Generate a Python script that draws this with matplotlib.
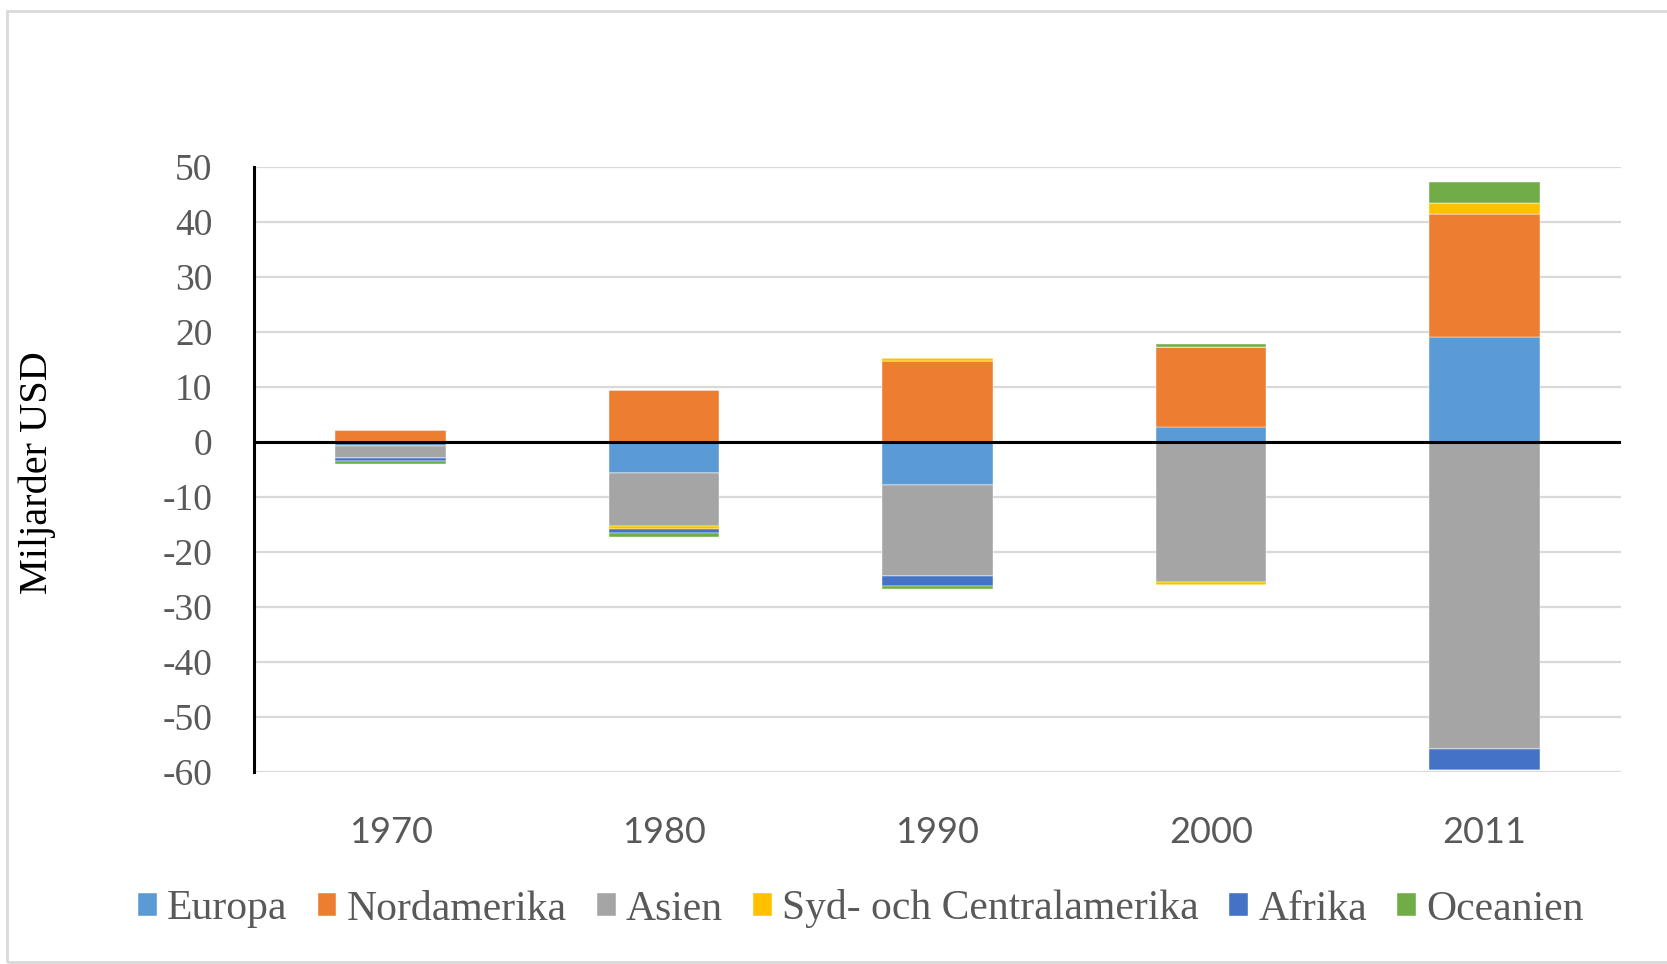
import matplotlib
matplotlib.use("Agg")
import matplotlib.pyplot as plt
from matplotlib.patches import Rectangle
import numpy as np

plt.rcParams["axes.unicode_minus"] = False

years = ["1970", "1980", "1990", "2000", "2011"]
series_names = ["Europa", "Nordamerika", "Asien", "Syd- och Centralamerika", "Afrika", "Oceanien"]
europa = [-0.8, -5.6, -7.9, 2.7, 19.1]
nordamerika = [2.2, 9.5, 14.7, 14.5, 22.4]
asien = [-2.1, -9.6, -16.4, -25.4, -55.8]
syd_central = [0.0, -0.7, 0.6, -0.6, 2.0]
afrika = [-0.5, -0.7, -1.8, 0.0, -3.9]
oceanien = [-0.6, -0.7, -0.7, 0.6, 3.7]
colors = ["#5B9BD5", "#ED7D31", "#A5A5A5", "#FFC000", "#4472C4", "#70AD47"]

data = [europa, nordamerika, asien, syd_central, afrika, oceanien]

fig = plt.figure(figsize=(16.67, 9.64), dpi=100)
# outer chart border
fig.patches.append(Rectangle((7 / 1667, 2 / 964), 1.0, 951 / 964, transform=fig.transFigure,
                             fill=False, edgecolor="#D9D9D9", linewidth=2.0))

ax = fig.add_axes([254 / 1667, 1 - 772 / 964, (1621 - 254) / 1667, (772 - 167) / 964])
x = np.arange(len(years))
pos_base = np.zeros(len(years))
neg_base = np.zeros(len(years))
width = 0.405
for name, vals, col in zip(series_names, data, colors):
    vals = np.array(vals, dtype=float)
    pos = np.where(vals > 0, vals, 0)
    neg = np.where(vals < 0, vals, 0)
    ax.bar(x, pos, width, bottom=pos_base, color=col, label=name, zorder=3,
           edgecolor="white", linewidth=0.3)
    ax.bar(x, neg, width, bottom=neg_base, color=col, zorder=3,
           edgecolor="white", linewidth=0.3)
    pos_base += pos
    neg_base += neg

ax.set_xlim(-0.5, 4.5)
ax.set_ylim(-60, 50)
ax.set_yticks(np.arange(-60, 51, 10))
ax.yaxis.grid(True, color="#D9D9D9", linewidth=1.6, zorder=0)
ax.set_axisbelow(True)
ax.axhline(0, color="black", linewidth=2.2, zorder=4)
for s in ["top", "right", "bottom"]:
    ax.spines[s].set_visible(False)
ax.spines["left"].set_color("black")
ax.spines["left"].set_linewidth(2.2)
ax.spines["left"].set_zorder(5)
ax.tick_params(axis="both", length=0)
ax.tick_params(axis="y", pad=30)
ax.tick_params(axis="x", pad=32)
ax.set_xticks(x)
ax.set_xticklabels(years, fontfamily="Lato", fontsize=26, color="#595959")
for lab in ax.get_yticklabels():
    lab.set_fontfamily("Liberation Serif")
    lab.set_fontsize(27)
    lab.set_color("#595959")

fig.text(37 / 1667, 1 - 473 / 964, "Miljarder USD", rotation=90, va="center", ha="center",
         fontfamily="Liberation Serif", fontsize=29, color="black")

handles, labels = ax.get_legend_handles_labels()
leg = fig.legend(handles, labels, loc="center", bbox_to_anchor=(0.5164, 1 - 909 / 964), ncol=6,
                 frameon=False, prop={"family": "Liberation Serif", "size": 30},
                 handlelength=0.45, handleheight=0.45, handletextpad=0.25, columnspacing=0.72)
for t in leg.get_texts():
    t.set_color("#595959")

fig.savefig("out.png", dpi=100)
